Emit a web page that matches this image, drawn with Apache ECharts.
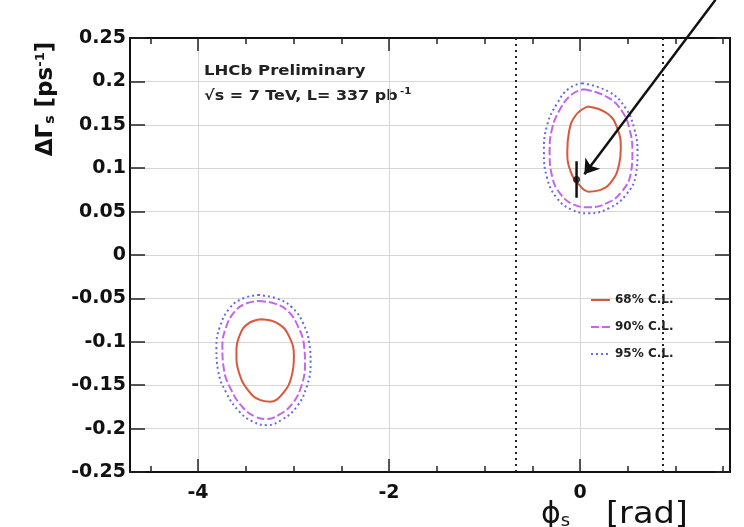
<!DOCTYPE html>
<html>
<head>
<meta charset="utf-8">
<script src="https://cdn.jsdelivr.net/npm/echarts@6/dist/echarts.min.js"></script>
<style>
  html, body { margin: 0; padding: 0; background: #fff; }
  #chart { width: 744px; height: 527px; }
</style>
</head>
<body>
<div id="chart"></div>
<script>
// Axis ranges and tick positions
const phiRange = [-3 * Math.PI / 2, Math.PI / 2];
const dgRange = [-0.25, 0.25];
const dgStep = 0.05;
const phiLabelTicks = [-4, -2, 0];
const phiMinorTicks = [-4.5, -3.5, -3, -2.5, -1.5, -1, -0.5, 0.5, 1, 1.5];

// Legend names
const clNames = ['68% C.L.', '90% C.L.', '95% C.L.'];

// Contours around the solution near phi_s = 0  [phi_s, dGamma_s]
const cl68Right = [[0.077,0.171],[0.286,0.163],[0.391,0.146],[0.427,0.123],[0.409,0.104],[0.339,0.086],[0.217,0.075],[0.094,0.073],[-0.010,0.081],[-0.098,0.096],[-0.133,0.119],[-0.115,0.142],[-0.045,0.161]];
const cl90Right = [[0.042,0.191],[0.286,0.182],[0.444,0.165],[0.521,0.144],[0.549,0.119],[0.532,0.094],[0.437,0.073],[0.286,0.060],[0.094,0.055],[-0.063,0.058],[-0.203,0.070],[-0.291,0.090],[-0.318,0.119],[-0.291,0.146],[-0.203,0.169],[-0.087,0.185]];
const cl95Right = [[0.024,0.198],[0.304,0.188],[0.479,0.169],[0.567,0.146],[0.602,0.119],[0.584,0.092],[0.479,0.069],[0.304,0.054],[0.094,0.048],[-0.081,0.052],[-0.238,0.065],[-0.343,0.088],[-0.378,0.119],[-0.343,0.150],[-0.238,0.175],[-0.115,0.192]];

// Contours around the mirror solution near phi_s = -pi
const cl68Left = [[-3.336,-0.074],[-3.161,-0.079],[-3.045,-0.094],[-2.996,-0.117],[-3.021,-0.140],[-3.108,-0.159],[-3.248,-0.169],[-3.353,-0.167],[-3.475,-0.156],[-3.570,-0.136],[-3.598,-0.113],[-3.562,-0.092],[-3.475,-0.079]];
const cl90Left = [[-3.370,-0.053],[-3.195,-0.056],[-3.055,-0.065],[-2.950,-0.083],[-2.890,-0.104],[-2.880,-0.125],[-2.915,-0.150],[-3.010,-0.171],[-3.150,-0.184],[-3.283,-0.189],[-3.405,-0.186],[-3.528,-0.176],[-3.650,-0.156],[-3.730,-0.131],[-3.745,-0.106],[-3.709,-0.084],[-3.615,-0.065],[-3.499,-0.056]];
const cl95Left = [[-3.370,-0.046],[-3.178,-0.050],[-3.020,-0.060],[-2.898,-0.079],[-2.835,-0.102],[-2.821,-0.125],[-2.863,-0.152],[-2.968,-0.175],[-3.125,-0.190],[-3.283,-0.196],[-3.423,-0.192],[-3.562,-0.181],[-3.703,-0.159],[-3.790,-0.133],[-3.808,-0.106],[-3.772,-0.083],[-3.667,-0.061],[-3.528,-0.050]];

// Standard Model prediction: phi_s, dGamma_s and its uncertainty
const smPhi = -0.036;
const smDG = 0.087;
const smDGErr = 0.021;

// Vertical boundary lines in phi_s
const phiBounds = [-0.67, 0.87];

// Annotation arrow pointing at the SM prediction: [start, tip]
const arrowCoords = [[1.419, 0.294], [0.046, 0.093]];

const closeLoop = pts => pts.concat([pts[0]]);

const clColors = ['#d9583c', '#c466ea', '#6a6ae6'];
const clLineTypes = ['solid', [8, 3], [2, 3]];

const FONT = 'DejaVu Sans';

function contourSeries(name, pts, idx) {
  return {
    name: name,
    type: 'line',
    data: closeLoop(pts),
    smooth: 0.45,
    symbol: 'none',
    silent: true,
    z: 5 - idx,
    lineStyle: { color: clColors[idx], width: 2, type: clLineTypes[idx] },
    itemStyle: { color: clColors[idx] }
  };
}

const baseX = {
  type: 'value',
  min: phiRange[0],
  max: phiRange[1],
  gridIndex: 0,
  splitLine: { show: false },
  axisLabel: { show: false },
  axisLine: { show: false, onZero: false }
};

const option = {
  animation: false,
  backgroundColor: '#fff',
  grid: { left: 130, top: 38, right: 14, bottom: 55, outerBoundsMode: 'none' },
  legend: {
    data: clNames,
    orient: 'vertical',
    left: 585,
    top: 289,
    itemWidth: 19,
    itemHeight: 14,
    itemGap: 15,
    itemStyle: { color: 'rgba(0,0,0,0)', borderWidth: 0, opacity: 0 },
    textStyle: { fontFamily: FONT, fontWeight: 'bold', fontSize: 12, color: '#222' }
  },
  xAxis: [
    Object.assign({}, baseX, {
      position: 'bottom',
      axisLine: { show: true, onZero: false, lineStyle: { color: '#111', width: 2 } },
      axisTick: { show: true, inside: true, length: 13, customValues: phiLabelTicks, lineStyle: { color: '#222', width: 1.5 } },
      axisLabel: { show: true, customValues: phiLabelTicks, margin: 12, fontFamily: FONT, fontWeight: 'bold', fontSize: 19, color: '#111' },
      splitLine: { show: true, lineStyle: { color: '#d6d6d6', width: 1 } }
    }),
    Object.assign({}, baseX, {
      position: 'bottom',
      axisTick: { show: true, inside: true, length: 6, customValues: phiMinorTicks, lineStyle: { color: '#222', width: 1.5 } }
    }),
    Object.assign({}, baseX, {
      position: 'top',
      axisLine: { show: true, onZero: false, lineStyle: { color: '#111', width: 2 } },
      axisTick: { show: true, inside: true, length: 13, customValues: phiLabelTicks, lineStyle: { color: '#222', width: 1.5 } }
    }),
    Object.assign({}, baseX, {
      position: 'top',
      axisTick: { show: true, inside: true, length: 6, customValues: phiMinorTicks, lineStyle: { color: '#222', width: 1.5 } }
    })
  ],
  yAxis: [
    {
      type: 'value',
      position: 'left',
      min: dgRange[0],
      max: dgRange[1],
      interval: dgStep,
      axisLine: { show: true, onZero: false, lineStyle: { color: '#111', width: 2 } },
      axisTick: { show: true, inside: true, length: 15, lineStyle: { color: '#222', width: 1.5 } },
      axisLabel: { margin: 4, fontFamily: FONT, fontWeight: 'bold', fontSize: 19, color: '#111' },
      splitLine: { show: true, lineStyle: { color: '#d6d6d6', width: 1 } }
    },
    {
      type: 'value',
      position: 'right',
      min: dgRange[0],
      max: dgRange[1],
      interval: dgStep,
      axisLine: { show: true, onZero: false, lineStyle: { color: '#111', width: 2 } },
      axisTick: { show: true, inside: true, length: 15, lineStyle: { color: '#222', width: 1.5 } },
      axisLabel: { show: false },
      splitLine: { show: false }
    }
  ],
  series: [
    contourSeries(clNames[0], cl68Right, 0),
    contourSeries(clNames[1], cl90Right, 1),
    contourSeries(clNames[2], cl95Right, 2),
    contourSeries(clNames[0], cl68Left, 0),
    contourSeries(clNames[1], cl90Left, 1),
    contourSeries(clNames[2], cl95Left, 2),
    {
      name: 'bounds',
      type: 'line',
      data: [],
      silent: true,
      markLine: {
        silent: true,
        symbol: ['none', 'none'],
        label: { show: false },
        lineStyle: { color: '#222', width: 2, type: [2, 4] },
        data: phiBounds.map(v => ({ xAxis: v }))
      }
    },
    {
      name: 'SM error',
      type: 'line',
      data: [[smPhi, smDG - smDGErr], [smPhi, smDG + smDGErr]],
      symbol: 'none',
      silent: true,
      z: 8,
      lineStyle: { color: '#111', width: 2.5 }
    },
    {
      name: 'SM',
      type: 'scatter',
      data: [[smPhi, smDG]],
      symbol: 'circle',
      symbolSize: 7,
      silent: true,
      z: 9,
      itemStyle: { color: '#111' }
    },
    {
      name: 'arrow',
      type: 'lines',
      coordinateSystem: 'cartesian2d',
      clip: false,
      silent: true,
      z: 10,
      symbol: ['none', 'arrow'],
      symbolSize: 14,
      lineStyle: { color: '#111', width: 2.5, opacity: 1 },
      data: [{ coords: arrowCoords }]
    }
  ],
  graphic: [
    {
      type: 'text',
      x: 204, y: 71,
      scaleX: 1.18,
      style: {
        text: 'LHCb Preliminary',
        font: 'bold 14px "DejaVu Sans"',
        fill: '#222',
        align: 'left',
        verticalAlign: 'middle'
      }
    },
    {
      type: 'text',
      x: 204, y: 96,
      scaleX: 1.14,
      style: {
        text: '√s = 7 TeV, L= 337 pb{sup|-1}',
        font: 'bold 14px "DejaVu Sans"',
        fill: '#222',
        align: 'left',
        verticalAlign: 'middle',
        rich: {
          sup: { font: 'bold 9px "DejaVu Sans"', fill: '#222', verticalAlign: 'top', padding: [0, 0, 8, 2] }
        }
      }
    },
    {
      type: 'text',
      x: 46, y: 99,
      rotation: Math.PI / 2,
      style: {
        text: '{m|ΔΓ}{s|s}{m| [ps}{p|-1}{m|]}',
        fill: '#111',
        align: 'center',
        verticalAlign: 'middle',
        rich: {
          m: { font: 'bold 23px "DejaVu Sans"', fill: '#111' },
          s: { font: 'bold 14px "DejaVu Sans"', fill: '#111', verticalAlign: 'bottom', padding: [6, 0, 0, 0] },
          p: { font: 'bold 13px "DejaVu Sans"', fill: '#111', verticalAlign: 'top', padding: [0, 0, 10, 0] }
        }
      }
    },
    {
      type: 'text',
      x: 541, y: 500,
      style: {
        text: '{m|ϕ}{s|s}',
        fill: '#111',
        align: 'left',
        verticalAlign: 'top',
        rich: {
          m: { font: '30px "DejaVu Sans"', fill: '#111' },
          s: { font: '18px "DejaVu Sans"', fill: '#111', verticalAlign: 'bottom', padding: [10, 0, 0, 0] }
        }
      }
    },
    {
      type: 'text',
      x: 606, y: 500,
      scaleX: 1.12,
      style: {
        text: '[rad]',
        font: '30px "DejaVu Sans"',
        fill: '#111',
        align: 'left',
        verticalAlign: 'top'
      }
    }
  ]
};

const chart = echarts.init(document.getElementById('chart'), null, { renderer: 'canvas' });
chart.setOption(option);
</script>
</body>
</html>
